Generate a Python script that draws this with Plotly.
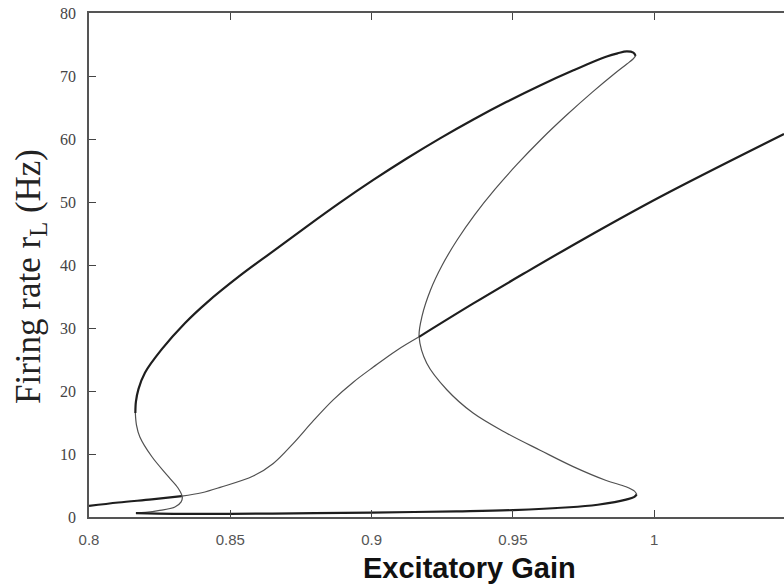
import plotly.graph_objects as go

# ---- data ----
# Z-shaped (folded) branch set
lower_stable_x = [0.8166, 0.83, 0.85, 0.88, 0.9, 0.93, 0.95, 0.97, 0.98, 0.986, 0.990, 0.9928, 0.9938]
lower_stable_y = [0.6, 0.5, 0.5, 0.6, 0.7, 0.9, 1.1, 1.55, 1.95, 2.35, 2.75, 3.15, 3.6]

middle_unstable_x = [0.9938, 0.9930, 0.990, 0.983, 0.9713, 0.9596, 0.9478, 0.9359, 0.9266,
                     0.9195, 0.9168, 0.9179, 0.9208, 0.9250, 0.9303, 0.9365, 0.9436,
                     0.9515, 0.9601, 0.9690, 0.9780, 0.9860, 0.9903, 0.9925, 0.9934]
middle_unstable_y = [3.6, 4.1, 4.8, 5.8, 8.0, 10.6, 13.3, 16.5, 20.2,
                     24.4, 28.6, 32.0, 36.0, 40.0, 44.0, 48.0, 52.0,
                     56.0, 60.0, 63.8, 67.4, 70.4, 71.9, 72.7, 73.2]

upper_stable_x = [0.9934, 0.9926, 0.9903, 0.9870, 0.9832, 0.9714, 0.9596, 0.9478, 0.936,
                  0.9242, 0.9124, 0.9006, 0.8888, 0.877, 0.8652, 0.8534, 0.8416, 0.834,
                  0.8257, 0.8198, 0.8175, 0.8166, 0.8164]
upper_stable_y = [73.2, 73.7, 73.9, 73.6, 73.1, 70.9, 68.5, 65.9, 63.1,
                  60.1, 56.9, 53.5, 49.9, 46.1, 42.2, 38.3, 34.0, 30.8,
                  26.6, 22.9, 20.3, 18.3, 16.5]

left_unstable_x = [0.8164, 0.8168, 0.818, 0.8222, 0.8281, 0.8315, 0.8330, 0.8326, 0.8304,
                   0.8245, 0.82, 0.8166]
left_unstable_y = [16.5, 14.6, 12.7, 9.6, 6.4, 4.6, 3.2, 2.4, 1.6, 1.0, 0.72, 0.6]

# Monotonic branch set
mono_low_x = [0.8, 0.8104, 0.8222, 0.8328]
mono_low_y = [1.75, 2.3, 2.8, 3.3]

mono_mid_x = [0.8328, 0.8399, 0.8464, 0.8581, 0.8652, 0.8723, 0.8794, 0.8864, 0.8935,
              0.9006, 0.9087, 0.9168]
mono_mid_y = [3.3, 3.85, 4.7, 6.5, 8.5, 11.7, 15.3, 18.6, 21.4, 23.8, 26.4, 28.6]

mono_high_x = [0.9168, 0.936, 0.9537, 0.9749, 1.002, 1.0459]
mono_high_y = [28.6, 33.9, 38.6, 44.1, 50.8, 60.8]

x_tickvals = [0.8, 0.85, 0.9, 0.95, 1.0]
x_ticktext = ["0.8", "0.85", "0.9", "0.95", "1"]
y_tickvals = [0, 10, 20, 30, 40, 50, 60, 70, 80]

# ---- figure ----
fig = go.Figure()

THICK = dict(color="#1e1e1e", width=2.2, shape="spline", smoothing=1.0)
THIN = dict(color="#505050", width=1.2, shape="spline", smoothing=1.0)

segments = [
    (middle_unstable_x, middle_unstable_y, THIN),
    (left_unstable_x, left_unstable_y, THIN),
    (mono_mid_x, mono_mid_y, THIN),
    (lower_stable_x, lower_stable_y, THICK),
    (upper_stable_x, upper_stable_y, THICK),
    (mono_low_x, mono_low_y, THICK),
    (mono_high_x, mono_high_y, THICK),
]
for xs, ys, ln in segments:
    fig.add_trace(go.Scatter(x=xs, y=ys, mode="lines", line=ln,
                             showlegend=False, hoverinfo="skip"))

fig.update_layout(
    width=784, height=586,
    margin=dict(l=89, r=0, t=13, b=69),
    paper_bgcolor="white", plot_bgcolor="white",
    showlegend=False,
)

fig.update_xaxes(
    range=[0.8, 1.0459],
    tickvals=x_tickvals, ticktext=x_ticktext,
    ticks="inside", ticklen=7, tickwidth=1.3, tickcolor="#444",
    showline=True, linecolor="#555", linewidth=1.6,
    mirror="ticks", showgrid=False, zeroline=False,
    tickfont=dict(family="Liberation Sans, Arial, sans-serif", size=15, color="#555"),
    ticklabelstandoff=8,
)
fig.update_yaxes(
    range=[0, 80],
    tickvals=y_tickvals,
    ticks="inside", ticklen=7, tickwidth=1.3, tickcolor="#444",
    showline=True, linecolor="#555", linewidth=1.6,
    mirror=False, showgrid=False, zeroline=False,
    tickfont=dict(family="Liberation Serif, Times New Roman, serif", size=16, color="#444"),
    ticklabelstandoff=8,
)

# axis titles as annotations to match the reference placement
fig.add_annotation(
    text="Excitatory Gain", xref="paper", yref="paper",
    x=0.548, y=-0.101, xanchor="center", yanchor="middle", showarrow=False,
    font=dict(family="Liberation Sans, Arial, sans-serif", size=29, color="#111", weight="bold"),
)
fig.add_annotation(
    text="Firing rate r<sub>L</sub> (Hz)", xref="paper", yref="paper",
    x=-0.085, y=0.478, xanchor="center", yanchor="middle", showarrow=False,
    textangle=-90,
    font=dict(family="Liberation Serif, Times New Roman, serif", size=35, color="#222"),
)

fig.write_html("out.html")
